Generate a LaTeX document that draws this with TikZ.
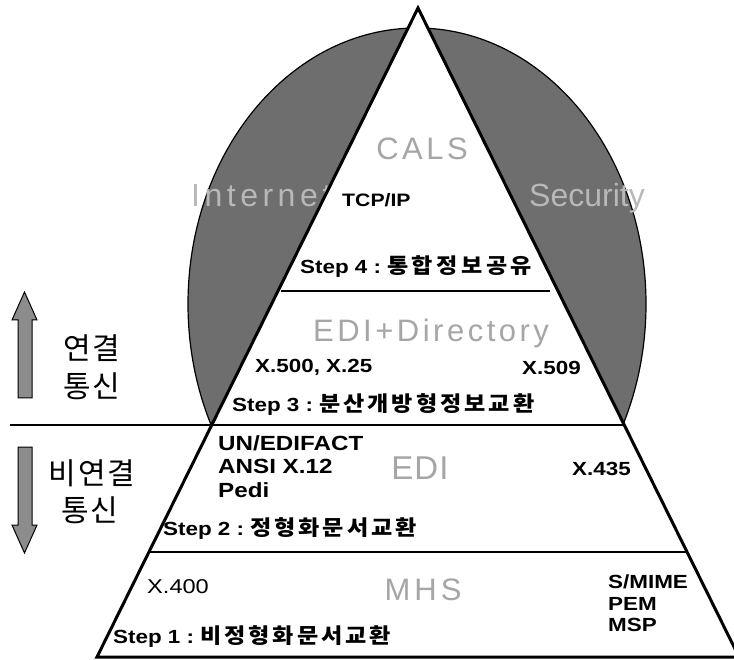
\documentclass[tikz,border=0pt]{standalone}
\usepackage{fontspec}
\setmainfont{Liberation Sans}
\newfontfamily\bx[FakeStretch=1.18]{Liberation Sans}
\newfontfamily\kb[FakeStretch=1.1]{Noto Sans CJK KR}
\newfontfamily\kr{Noto Sans CJK KR}
\newcommand\kstepfont{\kb\bfseries\fontsize{21}{21}\selectfont}
\newlength\kgap
\makeatletter
\newcommand\ksp[1]{\ksp@i#1\@nil}
\def\ksp@i#1{\ifx\@nil#1\else#1\expandafter\ksp@ii\fi}
\def\ksp@ii#1{\ifx\@nil#1\else\kern\kgap#1\expandafter\ksp@ii\fi}
\makeatother
\tikzset{
  lobe/.style={fill=black!57, draw=black, line width=1.2pt},
  tri/.style={fill=white, draw=black, line width=3pt, line join=miter},
  sep/.style={draw=black, line width=2.5pt},
  gtxt/.style={text=black!35, font=\fontsize{31}{31}\selectfont, inner sep=0pt},
  wtxt/.style={text=black!28, font=\fontsize{32}{32}\selectfont, inner sep=0pt},
  btxt/.style={font=\bx\bfseries\fontsize{19}{19}\selectfont, inner sep=0pt},
  rtxt/.style={font=\bx\fontsize{20}{20}\selectfont, inner sep=0pt},
  ktxt/.style={font=\kr\fontsize{30}{30}\selectfont, inner sep=0pt},
  arrowfill/.style={fill=black!45, draw=black, line width=1pt}
}
\begin{document}
\begin{tikzpicture}[x=1pt, y=-1pt]
\useasboundingbox (0,0) rectangle (734,660);
\clip (0,0) rectangle (734,660);
% grey ellipse behind the pyramid
\path[lobe] (417,304) ellipse [x radius=229, y radius=276];
\node[wtxt, anchor=base west] (internet) at (191,207) {\kgap=4.5pt\ksp{Internet}};
\node[wtxt, anchor=base west] (security) at (529,207) {Security};
% pyramid
\coordinate (apex) at (418,8);
\coordinate (bl) at (97,657);
\coordinate (br) at (739,657);
\path[tri] (apex) -- (bl) -- (br) -- cycle;
% separators
\coordinate (s4l) at (281,291);
\coordinate (s4r) at (550,291);
\coordinate (s3l) at (10,425);
\coordinate (s3r) at (625,425);
\coordinate (s2l) at (149,552);
\coordinate (s2r) at (687,552);
\draw[sep] (s4l) -- (s4r);
\draw[sep] (s3l) -- (s3r);
\draw[sep] (s2l) -- (s2r);
% level 4
\node[gtxt, anchor=base] (cals) at (422,160) {\kgap=3.5pt\ksp{CALS}};
\node[btxt, font=\bx\bfseries\fontsize{18}{18}\selectfont, anchor=base west] (tcp) at (342,207) {TCP/IP};
\node[btxt, anchor=base west] (step4) at (300,274) {Step 4 :\hspace{6pt}{\kstepfont\kgap=3.5pt\ksp{통합정보공유}}};
% level 3
\node[gtxt, anchor=base west] (edidir) at (313,342) {\kgap=3.5pt\ksp{EDI+Directory}};
\node[btxt, anchor=base west] (x500) at (255,373) {X.500, X.25};
\node[btxt, anchor=base west] (x509) at (522,374) {X.509};
\node[btxt, anchor=base west] (step3) at (232,412) {Step 3 :\hspace{6pt}{\kstepfont\kgap=3pt\ksp{분산개방형정보교환}}};
% level 2
\node[btxt, font=\bx\bfseries\fontsize{20.5}{20.5}\selectfont, anchor=base west] (un) at (218,450) {UN/EDIFACT};
\node[btxt, font=\bx\bfseries\fontsize{20.5}{20.5}\selectfont, anchor=base west] (ansi) at (218,473) {ANSI X.12};
\node[btxt, font=\bx\bfseries\fontsize{20.5}{20.5}\selectfont, anchor=base west] (pedi) at (218,497) {Pedi};
\node[gtxt, font=\fontsize{33}{33}\selectfont, anchor=base] (edi) at (420,479) {\kgap=1pt\ksp{EDI}};
\node[btxt, anchor=base west] (x435) at (572,475) {X.435};
\node[btxt, anchor=base west] (step2) at (163,535) {Step 2 :\hspace{6pt}{\kstepfont\kgap=3pt\ksp{정형화문서교환}}};
% level 1
\node[rtxt, anchor=base west] (x400) at (147,593) {X.400};
\node[gtxt, anchor=base] (mhs) at (423,600) {\kgap=4pt\ksp{MHS}};
\node[btxt, anchor=base west] (smime) at (608,588) {S/MIME};
\node[btxt, anchor=base west] (pem) at (608,610) {PEM};
\node[btxt, anchor=base west] (msp) at (608,631) {MSP};
\node[btxt, anchor=base west] (step1) at (113,643) {Step 1 :\hspace{6pt}{\kstepfont\kgap=3pt\ksp{비정형화문서교환}}};
% left side arrows and labels
\path[arrowfill] (24.5,292) -- (37,320) -- (32,320) -- (32,398) -- (18,398) -- (18,320) -- (12,320) -- cycle;
\path[arrowfill] (18,447) -- (32,447) -- (32,525) -- (37,525) -- (24.5,553) -- (12,525) -- (18,525) -- cycle;
\node[ktxt] (yg) at (92,348) {\kgap=2pt\ksp{연결}};
\node[ktxt] (ts1) at (92,386) {\kgap=2pt\ksp{통신}};
\node[ktxt] (byg) at (92,473) {\kgap=2pt\ksp{비연결}};
\node[ktxt] (ts2) at (90,510) {\kgap=2pt\ksp{통신}};
\end{tikzpicture}
\end{document}
